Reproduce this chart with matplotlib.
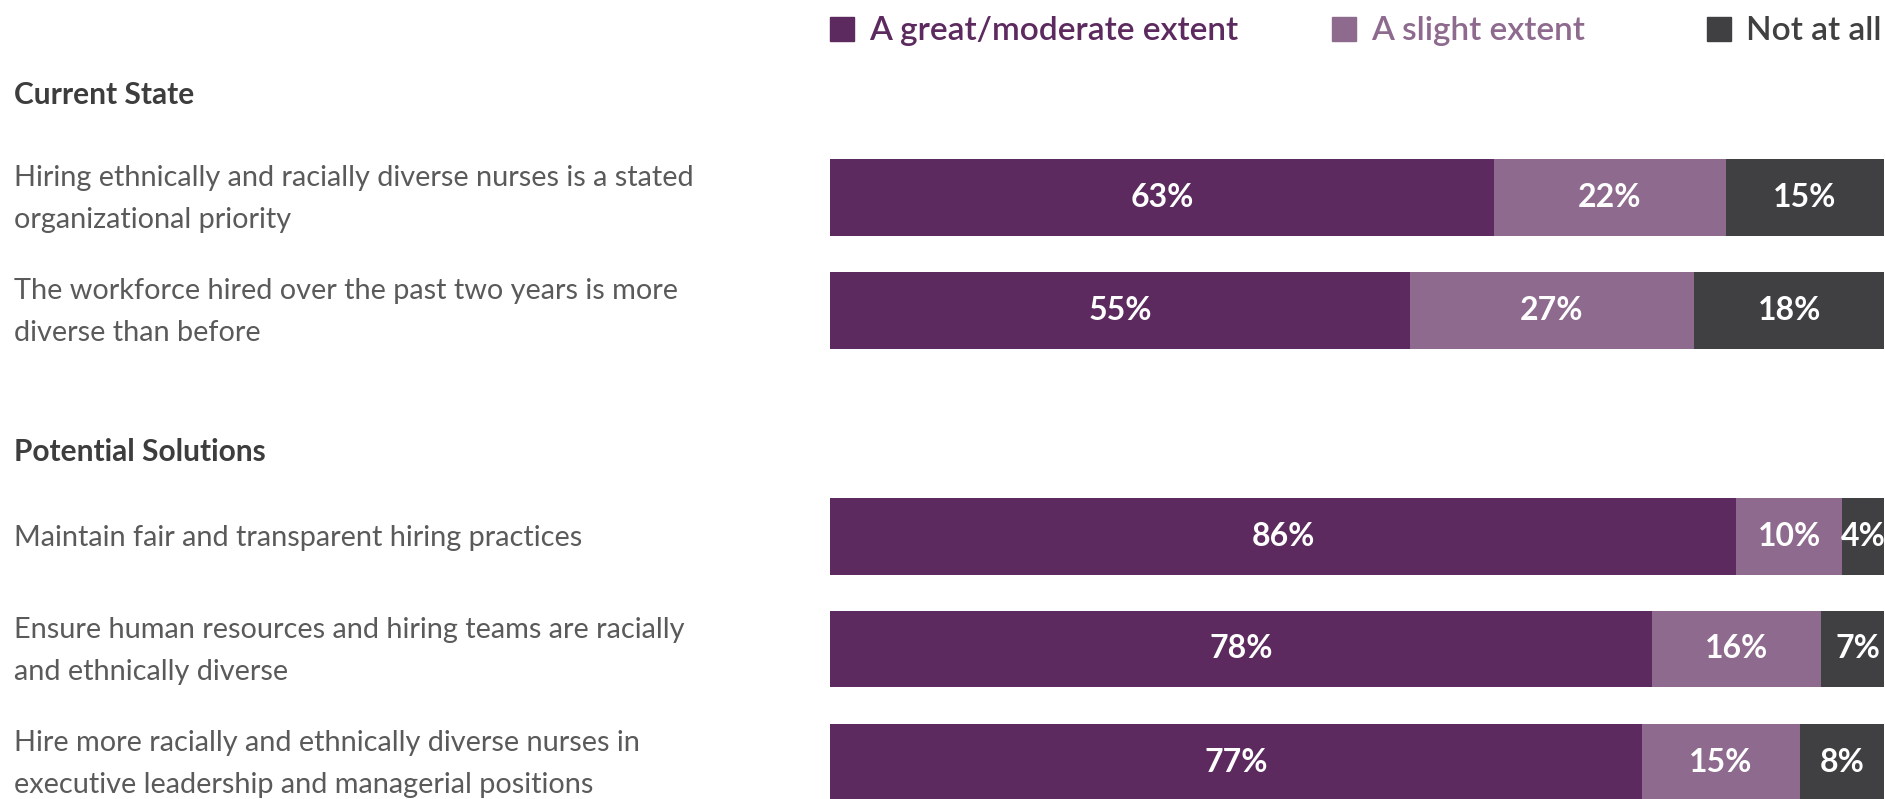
import matplotlib
matplotlib.use("Agg")
import matplotlib.pyplot as plt
from matplotlib.patches import Rectangle
from matplotlib.transforms import blended_transform_factory

# Survey responses (percent of respondents)
groups = ["Current State", "Potential Solutions"]
statements = [
    "Hiring ethnically and racially diverse nurses is a stated\norganizational priority",
    "The workforce hired over the past two years is more\ndiverse than before",
    "Maintain fair and transparent hiring practices",
    "Ensure human resources and hiring teams are racially\nand ethnically diverse",
    "Hire more racially and ethnically diverse nurses in\nexecutive leadership and managerial positions",
]
statement_group = [0, 0, 1, 1, 1]
series_names = ["A great/moderate extent", "A slight extent", "Not at all"]
great_moderate = [63, 55, 86, 78, 77]
slight = [22, 27, 10, 16, 15]
not_at_all = [15, 18, 4, 7, 8]

colors = ["#5c2a5e", "#8d6a8e", "#404042"]
text_colors = ["#5c2a5e", "#8d6a8e", "#404040"]

W, H = 1885, 799
fig = plt.figure(figsize=(W / 100, H / 100), dpi=100)
fig.patch.set_facecolor("white")

# Row positions: one empty slot between groups
positions = []
pos = 0
for i, g in enumerate(statement_group):
    if i > 0 and g != statement_group[i - 1]:
        pos += 1
    positions.append(pos)
    pos += 1

# Bar axes placed in pixel space
x0, x1 = 830, 1884
first_center, pitch = 197, 113
ax = fig.add_axes([x0 / W, 0, (x1 - x0) / W, 1])
ax.set_xlim(0, 100)
ax.set_ylim((H - first_center) / pitch, -first_center / pitch)
ax.axis("off")

bar_h = 77 / pitch
series = [great_moderate, slight, not_at_all]
lefts = [0] * len(statements)
for s_idx, vals in enumerate(series):
    ax.barh(positions, vals, left=lefts, height=bar_h, color=colors[s_idx],
            edgecolor="none", clip_on=True)
    for p, l, v in zip(positions, lefts, vals):
        ax.text(l + v / 2, p, f"{v}%", ha="center", va="center", color="white",
                fontsize=23, fontweight="bold", family="Lato", clip_on=False)
    lefts = [l + v for l, v in zip(lefts, vals)]

# Statement labels on the left
trans = blended_transform_factory(fig.transFigure, ax.transData)
for p, label in zip(positions, statements):
    ax.text(14 / W, p + 0.02, label, transform=trans, ha="left", va="center",
            fontsize=20.8, fontweight="normal", family="Lato", color="#5a5a5a",
            linespacing=1.78)

# Group headings
heading_y = [95, 452]
for g, y in zip(groups, heading_y):
    fig.text(14 / W, 1 - y / H, g, ha="left", va="center", fontsize=21.5,
             fontweight="bold", family="Lato", color="#3d3d3d")

# Legend
legend_x = [830, 1332, 1707]
sq = 24
ly = 29
for name, c, tc, lx in zip(series_names, colors, text_colors, legend_x):
    fig.patches.append(Rectangle((lx / W, 1 - (ly + sq / 2) / H), sq / W, sq / H,
                                 transform=fig.transFigure, color=c))
    fig.text((lx + sq + 15) / W, 1 - (ly + 2) / H, name, ha="left", va="center",
             fontsize=24, fontweight="semibold", family="Lato", color=tc)

fig.savefig("out.png", dpi=100, facecolor="white")
